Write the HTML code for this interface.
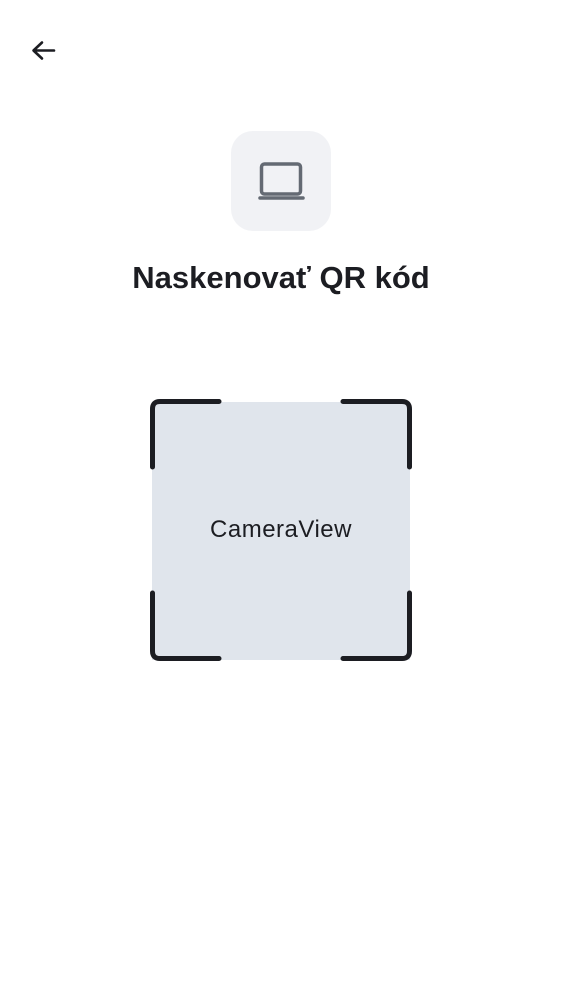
<!DOCTYPE html>
<html><head><meta charset="utf-8"><style>
html,body{margin:0;padding:0;background:#fff;width:562px;height:1000px;overflow:hidden;font-family:"Liberation Sans",sans-serif;position:relative}
.abs{position:absolute}
</style></head><body>
<svg class="abs" style="left:28px;top:36px" width="30" height="30" viewBox="0 0 30 30">
<path d="M26 14.5H6M14 6.5L5.5 14.5L14 22.5" fill="none" stroke="#1c1d22" stroke-width="2.6" stroke-linecap="round" stroke-linejoin="round"/></svg>
<div class="abs" style="left:231px;top:131px;width:100px;height:100px;border-radius:22px;background:#f1f2f5">
<svg width="100" height="100" viewBox="0 0 100 100">
<rect x="30.5" y="33" width="39" height="30" rx="3" fill="none" stroke="#646a73" stroke-width="3.5"/>
<line x1="29" y1="67" x2="72" y2="67" stroke="#646a73" stroke-width="3.5" stroke-linecap="round"/></svg></div>
<div class="abs" style="left:0;width:562px;top:260px;text-align:center;font-size:31px;font-weight:bold;color:#1c1d22">Naskenovať QR kód</div>
<div class="abs" style="left:152px;top:402px;width:258px;height:258px;background:#e0e5ec"></div>
<div class="abs" style="left:152px;width:258px;top:516px;text-align:center;font-size:24px;color:#1c1d22;letter-spacing:0.5px">CameraView</div>
<svg class="abs" style="left:0;top:0" width="562" height="1000">
<g fill="none" stroke="#1c1d22" stroke-width="5" stroke-linecap="round" stroke-linejoin="round">
<path d="M152.5 467V409Q152.5 401.5 160 401.5H219"/>
<path d="M343 401.5H402Q409.5 401.5 409.5 409V467"/>
<path d="M152.5 593V651Q152.5 658.5 160 658.5H219"/>
<path d="M343 658.5H402Q409.5 658.5 409.5 651V593"/>
</g></svg>
</body></html>
